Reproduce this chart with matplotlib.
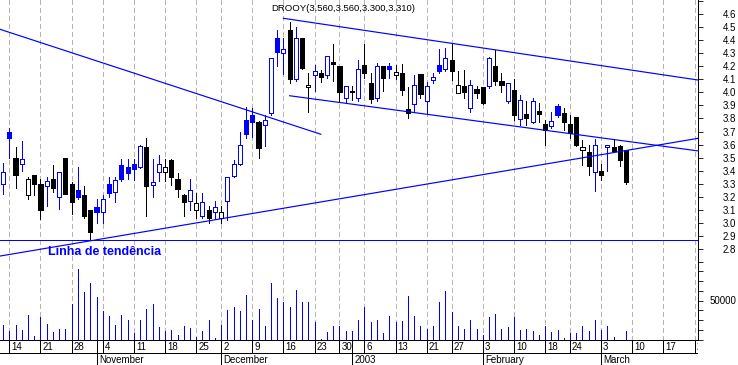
import numpy as np
import pandas as pd
import matplotlib
matplotlib.use("Agg")
import matplotlib.pyplot as plt
from matplotlib.patches import Rectangle

plt.rcParams['font.family'] = ['Liberation Sans', 'DejaVu Sans']
plt.rcParams['lines.scale_dashes'] = False
plt.rcParams['lines.antialiased'] = False
plt.rcParams['patch.antialiased'] = False

# ---------------- data ----------------
TICKER = "DROOY"
FIRST_DAY = "2002-10-11"
LAST_AXIS_DAY = "2003-03-24"
HOLIDAYS = ["2002-11-28", "2002-12-25", "2003-01-01", "2003-01-20", "2003-02-17"]

OPEN = [3.30, 3.70, 3.50, 3.45, 3.21, 3.37, 3.30, 3.28, 3.34, 3.20,
        3.50, 3.30, 3.25, 3.21, 3.10, 3.12, 3.08, 3.30, 3.235, 3.44,
        3.43, 3.45, 3.43, 3.58, 3.29, 3.39, 3.39, 3.48, 3.34, 3.21,
        3.165, 3.10, 3.05, 3.10, 3.08, 3.035, 3.17, 3.36, 3.45, 3.79,
        3.83, 3.77, 3.75, 3.84, 4.42, 4.30, 4.48, 4.10, 4.42, 4.04,
        4.13, 4.15, 4.13, 4.23, 4.20, 3.955, 4.01, 3.955, 4.21, 4.07,
        3.955, 4.20, 4.20, 4.13, 4.15, 3.87, 3.91, 4.14, 3.935, 4.095,
        4.21, 4.175, 4.25, 3.995, 4.05, 3.88, 4.025, 4.04, 4.05, 4.20,
        4.09, 3.93, 4.02, 3.795, 3.835, 3.77, 3.855, 3.76, 3.74, 3.895,
        3.845, 3.76, 3.81, 3.555, 3.545, 3.39, 3.40, 3.585, 3.585, 3.59,
        3.56]
HIGH = [3.46, 3.73, 3.58, 3.63, 3.35, 3.37, 3.34, 3.35, 3.44, 3.39,
        3.50, 3.31, 3.43, 3.28, 3.10, 3.18, 3.21, 3.35, 3.35, 3.49,
        3.49, 3.49, 3.60, 3.65, 3.49, 3.52, 3.49, 3.49, 3.385, 3.22,
        3.34, 3.23, 3.23, 3.13, 3.17, 3.13, 3.35, 3.48, 3.70, 3.89,
        3.88, 3.78, 3.83, 4.26, 4.48, 4.42, 4.54, 4.50, 4.42, 4.15,
        4.21, 4.17, 4.28, 4.37, 4.20, 4.05, 4.045, 4.25, 4.37, 4.145,
        4.225, 4.20, 4.225, 4.21, 4.22, 4.04, 4.13, 4.14, 4.08, 4.15,
        4.33, 4.34, 4.375, 4.16, 4.17, 4.095, 4.05, 4.04, 4.27, 4.325,
        4.145, 4.075, 4.10, 3.98, 3.93, 3.955, 3.915, 3.79, 3.85, 3.91,
        3.88, 3.83, 3.81, 3.635, 3.60, 3.645, 3.45, 3.60, 3.645, 3.60,
        3.56]
LOW = [3.22, 3.50, 3.27, 3.40, 3.18, 3.21, 3.03, 3.13, 3.24, 3.11,
       3.22, 3.07, 3.18, 3.04, 2.87, 3.00, 3.00, 3.20, 3.16, 3.32,
       3.34, 3.33, 3.42, 3.05, 3.20, 3.32, 3.32, 3.29, 3.20, 3.05,
       3.10, 3.04, 3.04, 3.00, 3.04, 3.00, 3.02, 3.35, 3.44, 3.65,
       3.655, 3.50, 3.59, 3.83, 4.20, 4.14, 4.075, 4.09, 4.18, 3.85,
       4.01, 4.08, 4.11, 4.09, 3.93, 3.915, 3.94, 3.93, 4.11, 3.92,
       3.93, 4.01, 4.11, 4.10, 3.98, 3.80, 3.85, 3.955, 3.84, 4.07,
       4.145, 4.16, 4.095, 3.995, 3.96, 3.85, 3.955, 3.91, 4.03, 4.055,
       4.005, 3.92, 3.79, 3.75, 3.75, 3.765, 3.775, 3.60, 3.725, 3.81,
       3.71, 3.65, 3.59, 3.445, 3.37, 3.245, 3.33, 3.40, 3.545, 3.435,
       3.30]
CLOSE = [3.39, 3.65, 3.37, 3.49, 3.34, 3.30, 3.10, 3.32, 3.27, 3.39,
         3.22, 3.16, 3.20, 3.05, 2.93, 3.08, 3.18, 3.23, 3.33, 3.34,
         3.38, 3.41, 3.59, 3.28, 3.31, 3.45, 3.43, 3.35, 3.26, 3.16,
         3.25, 3.15, 3.16, 3.04, 3.12, 3.08, 3.35, 3.45, 3.60, 3.68,
         3.77, 3.57, 3.79, 4.26, 4.31, 4.33, 4.10, 4.42, 4.19, 4.06,
         4.16, 4.12, 4.28, 4.22, 4.00, 4.05, 4.00, 4.18, 4.15, 3.95,
         4.20, 4.11, 4.175, 4.155, 4.02, 3.845, 4.055, 3.99, 4.05, 4.12,
         4.16, 4.26, 4.16, 4.06, 4.005, 4.06, 3.995, 3.915, 4.26, 4.09,
         4.055, 4.07, 3.83, 3.94, 3.80, 3.93, 3.835, 3.715, 3.78, 3.825,
         3.77, 3.685, 3.60, 3.58, 3.435, 3.60, 3.37, 3.60, 3.55, 3.48,
         3.31]
VOLUME = [19200, 10600, 19200, 11900, 30800, 5100, 28600, 20500, 9400, 14100,
          14100, 44900, 91000, 60600, 71800, 54200, 36300, 29900, 19200, 30800,
          25600, 7700, 25600, 39700, 44900, 16300, 11500, 12800, 6400, 17900,
          15000, 3500, 11500, 25600, 1300, 19200, 37200, 41400, 36300, 56800,
          24400, 38500, 17900, 71800, 52600, 47800, 42300, 64100, 48700, 47800,
          22200, 600, 9400, 17100, 17900, 10600, 11500, 25600, 41400, 22200,
          24700, 7700, 29900, 22200, 23500, 55500, 29900, 17900, 14100, 17100,
          47800, 61900, 35000, 17900, 14100, 24700, 14100, 6400, 28600, 32100,
          14100, 15800, 28600, 12800, 14100, 11500, 6400, 16700, 9400, 12800,
          1700, 7700, 7700, 16700, 10600, 25600, 12800, 16700, 3500, 0,
          10300]

# hand-drawn lines (trading-day position, price)
SUPPORT_LEVEL = 2.87
DOWN_LINE_X, DOWN_LINE_Y = [-0.5, 51.0], [4.483, 3.679]
CHANNEL_TOP_X, CHANNEL_TOP_Y = [45.0, 111.6], [4.567, 4.094]
CHANNEL_BOT_X, CHANNEL_BOT_Y = [46.0, 111.6], [3.974, 3.551]
RISING_X, RISING_Y = [-0.5, 111.6], [2.746, 3.648]
NOTE_TEXT = "Linha de tendência"
NOTE_X, NOTE_Y = 7.2, 2.777

PRICE_TICKS = [round(2.8 + 0.1 * k, 1) for k in range(20)]
VOLUME_TICKS = [12500 * k for k in range(0, 9)]
VOLUME_LABELLED = [50000]

# ---------------- calendar ----------------
cal = pd.bdate_range(FIRST_DAY, LAST_AXIS_DAY)
cal = cal[~cal.isin(pd.to_datetime(HOLIDAYS))]
npos = len(cal)
n = len(OPEN)
xs = np.arange(n)

week_pos, week_lab, month_pos, month_lab = [], [], [], []
for i in range(1, npos):
    if cal[i].to_period('W') != cal[i - 1].to_period('W'):
        week_pos.append(i)
        week_lab.append(str(cal[i].day))
    if cal[i].month != cal[i - 1].month:
        month_pos.append(i)
        month_lab.append(str(cal[i].year) if cal[i].month == 1 else cal[i].strftime('%B'))

# ---------------- layout ----------------
W, H = 738, 365
PX_RIGHT = 697.5
PX_BOTTOM = 339.5
DAY_PX = 6.23
X0_PX = 3.07
xl = ((0 - X0_PX) / DAY_PX, (PX_RIGHT - X0_PX) / DAY_PX)
PPU = 130.56  # px per price unit
price_top = 4.6 + 14 / PPU
price_bot = 4.6 - (PX_BOTTOM - 14) / PPU
vol_top = PX_BOTTOM / 39.0 * 50000

BLUE = '#0000ff'
BLACK = '#000000'
LW = 0.6

fig = plt.figure(figsize=(W / 100, H / 100), dpi=100)
fig.patch.set_facecolor('white')
ax = fig.add_axes([0, (H - PX_BOTTOM) / H, PX_RIGHT / W, PX_BOTTOM / H])
ax.set_xlim(*xl)
ax.set_ylim(price_bot, price_top)
ax2 = ax.twinx()
ax2.set_ylim(0, vol_top)
ax2.set_xlim(*xl)

# grid
for p in week_pos:
    ax.axvline(p, color='#b4b4b4', lw=LW, linestyle=(0, (2.9, 2.2)), zorder=0)

# volume
ax2.vlines(xs, 0, VOLUME, colors=BLUE, lw=LW, zorder=2)

# candles
for i in range(n):
    o, h, l, c = OPEN[i], HIGH[i], LOW[i], CLOSE[i]
    prev = CLOSE[i - 1] if i > 0 else o
    col = BLUE if c >= prev else BLACK
    ax.vlines(xs[i], l, h, colors=col, lw=LW, zorder=3)
    lo, hi = min(o, c), max(o, c)
    hgt = max(hi - lo, 0.008)
    face = 'white' if c > o else col
    ax.add_patch(Rectangle((xs[i] - 0.33, lo), 0.66, hgt, facecolor=face,
                           edgecolor=col, lw=LW, zorder=4))

# trend lines
ax.axhline(SUPPORT_LEVEL, color=BLUE, lw=LW, zorder=5)
for lx, ly in [(DOWN_LINE_X, DOWN_LINE_Y), (CHANNEL_TOP_X, CHANNEL_TOP_Y),
               (CHANNEL_BOT_X, CHANNEL_BOT_Y), (RISING_X, RISING_Y)]:
    ax.plot(lx, ly, color=BLUE, lw=0.85, zorder=5, antialiased=True)
ax.text(NOTE_X, NOTE_Y, NOTE_TEXT, color=BLUE, fontsize=9, fontweight='bold',
        va='center', ha='left', zorder=6)

# axes styling
for a in (ax, ax2):
    for s in ('top', 'left'):
        a.spines[s].set_visible(False)
    a.set_xticks([])
ax2.spines['right'].set_visible(False)
ax2.spines['bottom'].set_visible(False)
ax.spines['right'].set_linewidth(LW)
ax.spines['bottom'].set_linewidth(LW)
ax.patch.set_alpha(0)
ax2.patch.set_alpha(0)

PAD = (736 - PX_RIGHT - 5) * 0.72
ax.yaxis.tick_right()
ax.set_yticks(PRICE_TICKS, labels=[f"{t:.1f}" if t <= 4.6 else "" for t in PRICE_TICKS])
ax2.set_yticks(VOLUME_TICKS, labels=[str(t) if t in VOLUME_LABELLED else "" for t in VOLUME_TICKS])
for a in (ax, ax2):
    a.tick_params(axis='y', which='both', direction='out', length=3.6, width=LW,
                  labelsize=7, pad=PAD, left=False, labelleft=False,
                  right=True, labelright=True)
    for lbl in a.get_yticklabels():
        lbl.set_horizontalalignment('right')

# title
title = f"{TICKER}({OPEN[-1]:.3f},{HIGH[-1]:.3f},{LOW[-1]:.3f},{CLOSE[-1]:.3f})"
fig.text(271.7 / W, 1 - 8.7 / H, title, fontsize=6.8, va='center', ha='left')

# date strip
axd = fig.add_axes([0, 0, PX_RIGHT / W, (H - PX_BOTTOM) / H])
axd.set_xlim(*xl)
axd.set_ylim(H, PX_BOTTOM)
axd.axis('off')
axd.hlines([353], xl[0], xl[1], colors=BLACK, lw=LW)
axd.vlines(week_pos, PX_BOTTOM, 353, colors=BLACK, lw=LW)
axd.vlines(month_pos, PX_BOTTOM, H, colors=BLACK, lw=LW)
for p, t in zip(week_pos, week_lab):
    axd.text(p + 2.0 / DAY_PX, 347, t, fontsize=7, va='center', ha='left', clip_on=True)
for p, t in zip(month_pos, month_lab):
    axd.text(p + 2.5 / DAY_PX, 360.3, t, fontsize=7, va='center', ha='left', clip_on=True)

fig.savefig('out.png', dpi=100, facecolor='white')
